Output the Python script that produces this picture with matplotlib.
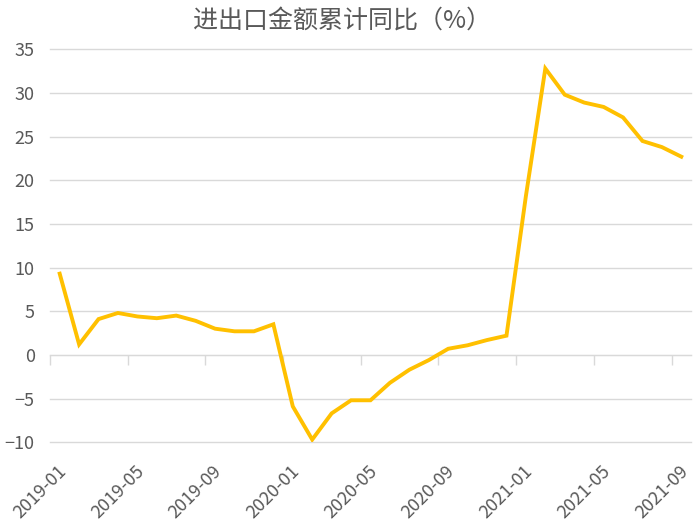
import numpy as np
import matplotlib
matplotlib.use('Agg')
import matplotlib.pyplot as plt
import matplotlib.transforms as mtransforms

plt.rcParams['font.family'] = ['Noto Sans CJK SC', 'DejaVu Sans']

months = ['2019-01', '2019-02', '2019-03', '2019-04', '2019-05', '2019-06',
          '2019-07', '2019-08', '2019-09', '2019-10', '2019-11', '2019-12',
          '2020-01', '2020-02', '2020-03', '2020-04', '2020-05', '2020-06',
          '2020-07', '2020-08', '2020-09', '2020-10', '2020-11', '2020-12',
          '2021-01', '2021-02', '2021-03', '2021-04', '2021-05', '2021-06',
          '2021-07', '2021-08', '2021-09']
growth = [9.3, 1.2, 4.1, 4.8, 4.4, 4.2,
          4.5, 3.9, 3.0, 2.7, 2.7, 3.5,
          -5.9, -9.7, -6.7, -5.2, -5.2, -3.2,
          -1.7, -0.6, 0.7, 1.1, 1.7, 2.2,
          18.2, 32.8, 29.8, 28.9, 28.4, 27.2,
          24.5, 23.8, 22.7]
y_ticks = list(range(-10, 40, 5))

gray = '#595959'
x = np.arange(len(months))

fig = plt.figure(figsize=(6.98, 5.29), dpi=100)
ax = fig.add_axes([0.0716, 0.1641, 0.9184, 0.7427])

ax.plot(x, growth, color='#FFC000', lw=2.8, solid_joinstyle='miter', zorder=3)

ax.set_xlim(-0.5, len(months) - 0.5)
ax.set_ylim(-10, 35)
ax.set_yticks(y_ticks)
ax.yaxis.grid(True, color='#d9d9d9', lw=1)
for gl in ax.get_ygridlines():
    gl.set_clip_on(False)
ax.set_axisbelow(True)
ax.tick_params(axis='y', length=0, pad=11, labelsize=13, labelcolor=gray)

for s in ['top', 'right', 'left']:
    ax.spines[s].set_visible(False)
ax.spines['bottom'].set_position(('data', 0))
ax.spines['bottom'].set_color('#d9d9d9')
ax.set_xticks(np.arange(-0.5, len(months), 4))
ax.tick_params(axis='x', length=7, width=1, color='#d9d9d9', labelbottom=False)

lab = ax.secondary_xaxis(0.0)
lab.spines['bottom'].set_visible(False)
lab.set_xticks(x[::4], [months[i] for i in x[::4]])
lab.tick_params(axis='x', length=0, pad=19, labelsize=13, labelcolor=gray)
shift = mtransforms.ScaledTranslation(4 / 100, 0, fig.dpi_scale_trans)
for t in lab.get_xticklabels():
    t.set_rotation(45)
    t.set_ha('right')
    t.set_va('center')
    t.set_rotation_mode('anchor')
    t.set_transform(t.get_transform() + shift)

fig.suptitle('进出口金额累计同比（%）', x=0.49, y=0.985, fontsize=18, color=gray)

fig.savefig('out.png', dpi=100)
